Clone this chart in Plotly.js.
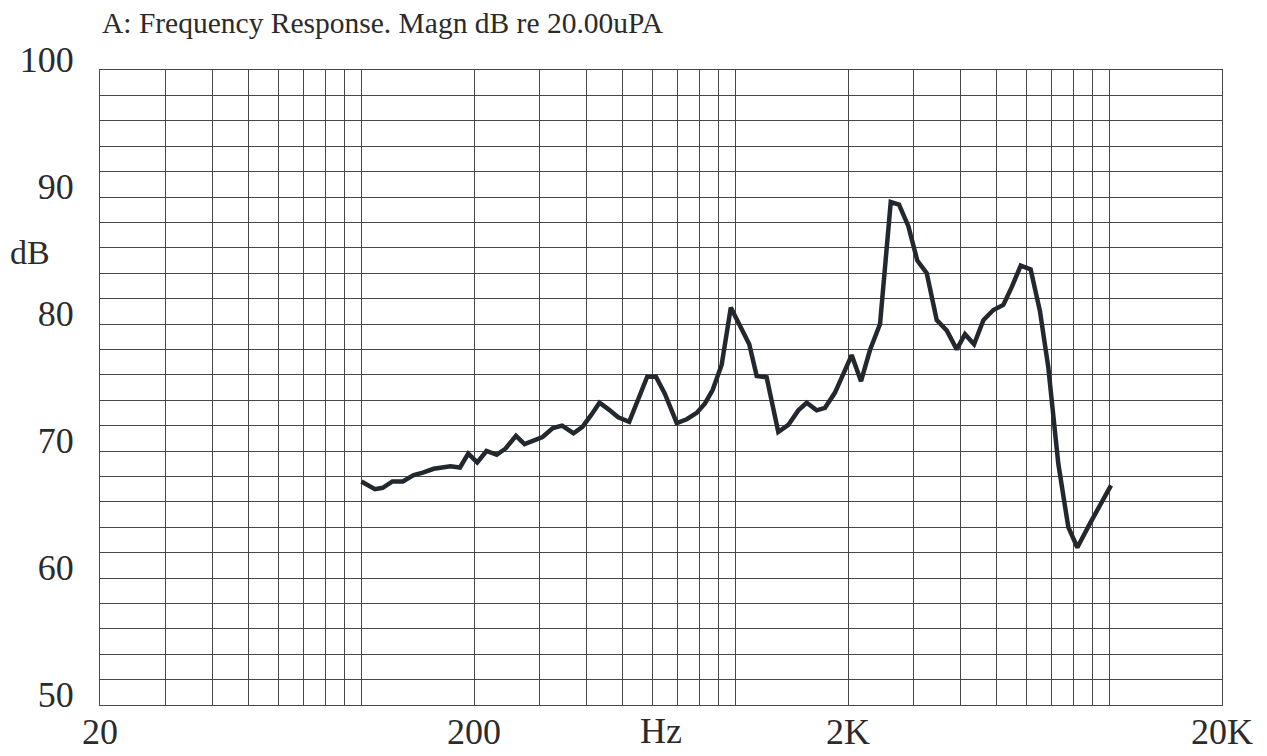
<!DOCTYPE html>
<html>
<head>
<meta charset="utf-8">
<script src="https://cdn.plot.ly/plotly-3.0.1.min.js"></script>
<style>html,body{margin:0;padding:0;background:#fff;}#chart{width:1267px;height:756px;}</style>
</head>
<body>
<div id="chart"></div>
<script>
// Frequency (Hz) and magnitude (dB re 20uPa)
const freqHz = [100, 108.7, 114, 121, 129, 138, 146, 156, 173, 183.5, 193, 204, 216, 230, 243, 259, 273, 288, 305, 325, 344, 369, 390, 413, 433, 457, 486, 520, 550, 581, 613, 648, 697, 741, 788, 829, 869, 919, 972, 1029, 1089, 1140, 1212, 1302, 1385, 1473, 1551, 1649, 1736, 1846, 1943, 2046, 2167, 2290, 2436, 2602, 2738, 2900, 3064, 3248, 3454, 3672, 3906, 4110, 4346, 4602, 4893, 5203, 5480, 5792, 6158, 6522, 6864, 7078, 7300, 7764, 8208, 8874, 10100];
const magDb = [67.6, 67.0, 67.1, 67.6, 67.6, 68.1, 68.3, 68.6, 68.8, 68.7, 69.8, 69.1, 70.0, 69.7, 70.2, 71.2, 70.55, 70.8, 71.1, 71.8, 72.0, 71.4, 71.9, 72.9, 73.8, 73.3, 72.65, 72.3, 74.1, 75.85, 75.85, 74.5, 72.2, 72.5, 73.0, 73.75, 74.8, 76.8, 81.3, 79.8, 78.4, 75.9, 75.8, 71.5, 72.05, 73.2, 73.8, 73.2, 73.4, 74.6, 76.0, 77.55, 75.5, 77.95, 80.0, 89.6, 89.4, 87.7, 85.0, 84.0, 80.3, 79.5, 78.0, 79.2, 78.4, 80.3, 81.1, 81.5, 82.9, 84.6, 84.3, 81.0, 76.6, 73.0, 69.0, 64.0, 62.4, 64.3, 67.3];

const xTickVals = [20, 30, 40, 50, 60, 70, 80, 90, 100, 200, 300, 400, 500, 600, 700, 800, 900, 1000, 2000, 3000, 4000, 5000, 6000, 7000, 8000, 9000, 10000, 20000];
const xTickText = ['20', '', '', '', '', '', '', '', '', '200', '', '', '', '', '', '', '', '', '2K', '', '', '', '', '', '', '', '', '20K'];
const yTickVals = [50, 52, 54, 56, 58, 60, 62, 64, 66, 68, 70, 72, 74, 76, 78, 80, 82, 84, 86, 88, 90, 92, 94, 96, 98, 100];
const yTickText = ['50', '', '', '', '', '60', '', '', '', '', '70', '', '', '', '', '80', '', '', '', '', '90', '', '', '', '', '100'];

const titleText = 'A: Frequency Response. Magn dB re 20.00uPA';
const xUnit = 'Hz';
const yUnit = 'dB';

const serif = 'Liberation Serif, Times New Roman, serif';
const gridCol = '#474747';
const textCol = '#2b2b2b';

const trace = {
  x: freqHz, y: magDb, type: 'scatter', mode: 'lines',
  line: {color: '#23282f', width: 4.5}, hoverinfo: 'skip'
};

const layout = {
  width: 1267, height: 756,
  margin: {l: 100, r: 45, t: 70, b: 51},
  paper_bgcolor: '#fff', plot_bgcolor: '#fff',
  showlegend: false,
  title: {
    text: titleText, x: 102/1267, xanchor: 'left', xref: 'container',
    y: 1 - 23/756, yanchor: 'middle', yref: 'container',
    font: {family: serif, size: 29.5, color: textCol}
  },
  xaxis: {
    type: 'log', range: [Math.log10(20), Math.log10(20000)],
    tickmode: 'array', tickvals: xTickVals, ticktext: xTickText,
    showgrid: true, gridcolor: gridCol, gridwidth: 1,
    showline: true, linecolor: gridCol, linewidth: 1, mirror: true,
    ticks: '', zeroline: false, ticklabelstandoff: -5,
    tickfont: {family: serif, size: 36, color: textCol}
  },
  yaxis: {
    range: [50, 100],
    tickmode: 'array', tickvals: yTickVals, ticktext: yTickText,
    showgrid: true, gridcolor: gridCol, gridwidth: 1,
    showline: true, linecolor: gridCol, linewidth: 1, mirror: true,
    ticks: '', zeroline: false, ticklabelstandoff: 18, ticklabelshift: -11,
    tickfont: {family: serif, size: 36, color: textCol}
  },
  annotations: [
    {text: xUnit, xref: 'paper', yref: 'paper', x: 0.5, y: -(731-705)/635,
     xanchor: 'center', yanchor: 'middle', showarrow: false,
     font: {family: serif, size: 36, color: textCol}},
    {text: yUnit, xref: 'paper', yref: 'paper', x: (8-100)/1122, y: (705-252)/635,
     xanchor: 'left', yanchor: 'middle', showarrow: false,
     font: {family: serif, size: 34, color: textCol}}
  ]
};

Plotly.newPlot('chart', [trace], layout, {displayModeBar: false, staticPlot: true});
</script>
</body>
</html>
